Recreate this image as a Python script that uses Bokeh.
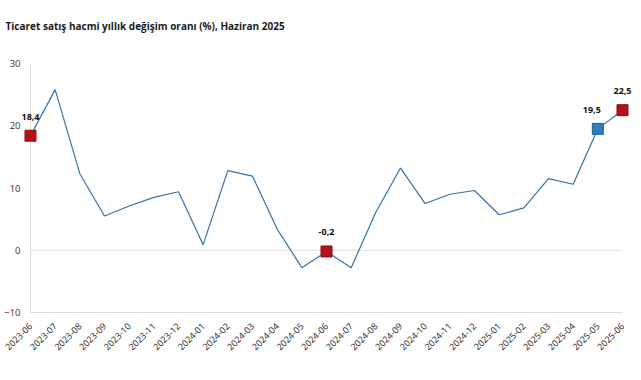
import math
from bokeh.plotting import figure
from bokeh.models import Range1d, FixedTicker, Span, ColumnDataSource, LabelSet, Title
from bokeh.embed import file_html
from bokeh.resources import INLINE
from bokeh.core.properties import value

title_text = "Ticaret satış hacmi yıllık değişim oranı (%), Haziran 2025"

months = ["2023-06", "2023-07", "2023-08", "2023-09", "2023-10", "2023-11", "2023-12",
          "2024-01", "2024-02", "2024-03", "2024-04", "2024-05", "2024-06", "2024-07",
          "2024-08", "2024-09", "2024-10", "2024-11", "2024-12", "2025-01", "2025-02",
          "2025-03", "2025-04", "2025-05", "2025-06"]
rates = [18.4, 25.8, 12.3, 5.5, 7.1, 8.5, 9.4,
         0.9, 12.8, 11.9, 3.4, -2.8, -0.2, -2.8,
         6.1, 13.2, 7.5, 9.0, 9.6, 5.7, 6.8,
         11.5, 10.6, 19.5, 22.5]
red_months = ["2023-06", "2024-06", "2025-06"]
blue_months = ["2025-05"]
y_ticks = [-10, 0, 10, 20, 30]

FONT = "Open Sans"
AXIS_GREY = "#dcdcdc"
xs = list(range(len(months)))
n = len(months) - 1

p = figure(width=641, height=380, output_backend="svg", toolbar_location=None,
           title=None,
           x_range=Range1d(-0.405, n + 0.405), y_range=Range1d(y_ticks[0], y_ticks[-1]),
           min_border_left=20, min_border_right=9, min_border_top=0,
           min_border_bottom=68)
p.background_fill_color = "white"
p.border_fill_color = "white"
p.outline_line_color = None

# spacer between title and plot, then the title, then top spacer
p.add_layout(Title(text=" ", text_font_size="1px", standoff=28), "above")
p.add_layout(Title(text=title_text, text_font=FONT, text_font_size="10px",
                   text_font_style="bold", text_color="#1a1a1a", align="left",
                   offset=-15, standoff=0), "above")
p.add_layout(Title(text=" ", text_font_size="1px", standoff=13), "above")

p.xgrid.grid_line_color = None
p.ygrid.grid_line_color = None

p.yaxis.ticker = FixedTicker(ticks=y_ticks)
p.yaxis.major_tick_line_color = None
p.yaxis.major_tick_out = 0
p.yaxis.major_tick_in = 0
p.yaxis.minor_tick_line_color = None
p.yaxis.axis_line_color = None
p.yaxis.major_label_text_font = FONT
p.yaxis.major_label_text_font_size = "9.5px"
p.yaxis.major_label_text_color = "#333333"
p.yaxis.major_label_standoff = 0

p.xaxis.ticker = FixedTicker(ticks=xs)
p.xaxis.bounds = (xs[0], xs[-1])
p.xaxis.major_label_overrides = {i: m for i, m in zip(xs, months)}
p.xaxis.major_label_orientation = math.pi / 4
p.xaxis.major_tick_line_color = None
p.xaxis.major_tick_out = 0
p.xaxis.major_tick_in = 0
p.xaxis.minor_tick_line_color = None
p.xaxis.axis_line_color = AXIS_GREY
p.xaxis.major_label_text_font = FONT
p.xaxis.major_label_text_font_size = "9px"
p.xaxis.major_label_text_color = "#222222"
p.xaxis.major_label_standoff = 12

# vertical axis line at the first category
p.add_layout(Span(location=xs[0], dimension="height", line_color=AXIS_GREY,
                  line_width=1, level="underlay"))
# zero grid line
p.segment(x0=[xs[0]], y0=[0], x1=[xs[-1]], y1=[0], line_color=AXIS_GREY, line_width=1)

p.line(xs, rates, line_color="#3672a6", line_width=1.2)

def pick(sel):
    idx = [months.index(m) for m in sel]
    return ColumnDataSource(dict(x=idx, y=[rates[i] for i in idx],
                                 t=[f"{rates[i]:.1f}".replace(".", ",") for i in idx]))

red_src = pick(red_months)
blue_src = pick(blue_months)

p.scatter("x", "y", source=red_src, marker="square", size=11,
          fill_color="#b3121c", line_color="#8c0d14", line_width=1)
p.scatter("x", "y", source=blue_src, marker="square", size=11,
          fill_color="#2f7dc0", line_color="#1f5f99", line_width=1)

for src, dx in ((red_src, 0), (blue_src, -6)):
    p.add_layout(LabelSet(x="x", y="y", text="t", source=src, text_font=value(FONT),
                          text_font_size="9px", text_font_style="bold",
                          text_color="#111111", text_align="center",
                          text_baseline="middle", y_offset=19, x_offset=dx))

open("out.html", "w").write(file_html(p, INLINE))
